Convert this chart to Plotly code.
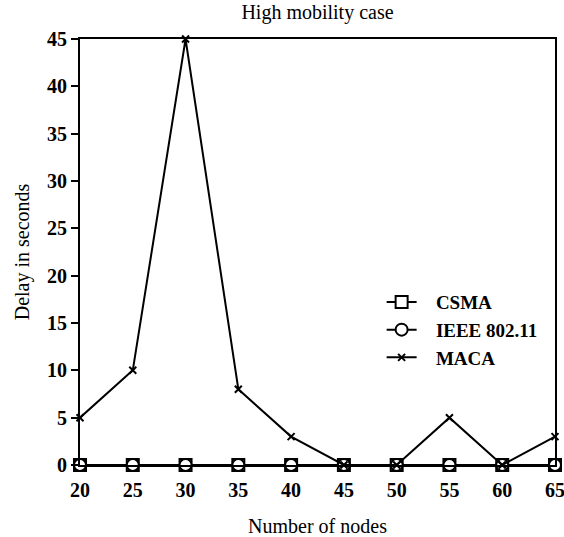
import plotly.graph_objects as go

nodes = [20, 25, 30, 35, 40, 45, 50, 55, 60, 65]
csma = [0, 0, 0, 0, 0, 0, 0, 0, 0, 0]
ieee = [0, 0, 0, 0, 0, 0, 0, 0, 0, 0]
maca = [5, 10, 45, 8, 3, 0, 0, 5, 0, 3]
y_ticks = [0, 5, 10, 15, 20, 25, 30, 35, 40, 45]
series_names = ["CSMA", "IEEE 802.11", "MACA"]

serif = "Liberation Serif"
pad = "\u00a0\u00a0\u00a0"
fig = go.Figure()
fig.add_trace(go.Scatter(x=nodes, y=csma, name=pad + series_names[0], mode="lines+markers",
                         line=dict(color="black", width=2),
                         marker=dict(symbol="square", size=12, color="white",
                                     line=dict(color="black", width=2)),
                         cliponaxis=False))
fig.add_trace(go.Scatter(x=nodes, y=ieee, name=pad + series_names[1], mode="lines+markers",
                         line=dict(color="black", width=2),
                         marker=dict(symbol="circle", size=12, color="white",
                                     line=dict(color="black", width=2)),
                         cliponaxis=False))
fig.add_trace(go.Scatter(x=nodes, y=maca, name=pad + series_names[2], mode="lines+markers",
                         line=dict(color="black", width=2),
                         marker=dict(symbol="x-thin", size=7, color="black",
                                     line=dict(color="black", width=2)),
                         cliponaxis=False))

fig.update_layout(
    width=564, height=537,
    margin=dict(l=80, r=9, t=39, b=72),
    paper_bgcolor="white", plot_bgcolor="white",
    font=dict(family=serif, color="black", size=20),
    title=dict(text="High mobility case", x=0.5, xanchor="center",
               xref="paper", y=0.99, yanchor="top",
               font=dict(family=serif, size=20, color="black")),
    showlegend=True,
    legend=dict(x=0.635, y=0.427, xanchor="left", yanchor="top",
                bgcolor="rgba(0,0,0,0)", tracegroupgap=0,
                font=dict(family=serif, size=19, color="black", weight="bold"),
                itemwidth=30),
    xaxis=dict(range=[20, 65], tickvals=nodes, showgrid=False, zeroline=False,
               showline=True, linecolor="black", linewidth=2, mirror=True,
               ticks="", ticklen=0, ticklabelstandoff=6, automargin=False,
               ticklabeloverflow="allow",
               tickfont=dict(family=serif, size=20, weight="bold"),
               title=dict(text="Number of nodes", standoff=20,
                          font=dict(family=serif, size=20))),
    yaxis=dict(range=[0, 45], tickvals=y_ticks, showgrid=False, zeroline=False,
               showline=True, linecolor="black", linewidth=2, mirror=True,
               ticks="outside", ticklen=7, tickwidth=2, tickcolor="black",
               ticklabelstandoff=0, automargin=False, ticklabeloverflow="allow",
               tickfont=dict(family=serif, size=20, weight="bold"),
               title=dict(text="Delay in seconds", standoff=12,
                          font=dict(family=serif, size=20))),
)

fig.write_html("out.html")
